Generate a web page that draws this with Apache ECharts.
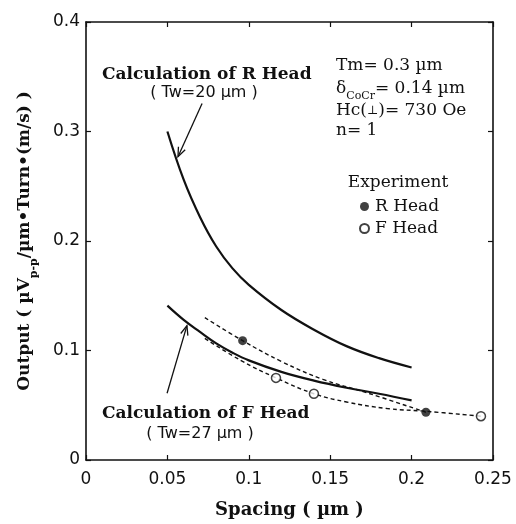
<!DOCTYPE html>
<html><head><meta charset="utf-8">
<script src="https://cdn.jsdelivr.net/npm/echarts@6/dist/echarts.min.js"></script>
<style>html,body{margin:0;padding:0;background:#fff}#c{width:516px;height:524px}</style>
</head><body><div id="c"></div>
<script>
// ---- Data ----
const calcRSpacing = [0.05, 0.06, 0.07, 0.08, 0.09, 0.10, 0.12, 0.14, 0.16, 0.18, 0.20];
const calcROutput  = [0.300, 0.256, 0.222, 0.195, 0.175, 0.160, 0.137, 0.119, 0.104, 0.093, 0.0845];
const calcFSpacing = [0.05, 0.06, 0.07, 0.08, 0.09, 0.10, 0.12, 0.14, 0.16, 0.18, 0.20];
const calcFOutput  = [0.141, 0.128, 0.117, 0.1065, 0.098, 0.091, 0.0805, 0.0725, 0.066, 0.0605, 0.0545];
const expRSpacing  = [0.0962, 0.2088];
const expROutput   = [0.109, 0.0436];
const expFSpacing  = [0.1167, 0.140, 0.2426];
const expFOutput   = [0.075, 0.0605, 0.040];
const fitRSpacing  = [0.073, 0.0962, 0.12, 0.1456, 0.1726, 0.2088];
const fitROutput   = [0.130, 0.109, 0.090, 0.0736, 0.0614, 0.0436];
const fitFSpacing  = [0.073, 0.095, 0.1167, 0.140, 0.16, 0.185, 0.2088, 0.2426];
const fitFOutput   = [0.111, 0.091, 0.075, 0.0605, 0.053, 0.047, 0.0445, 0.040];
const xTicks = [0, 0.05, 0.1, 0.15, 0.2, 0.25];
const yTicks = [0, 0.1, 0.2, 0.3, 0.4];

const pairs = (xs, ys) => xs.map((x, i) => [x, ys[i]]);
const INK = '#111';
const serif = 'DejaVu Serif';
const sans = 'DejaVu Sans';

const chart = echarts.init(document.getElementById('c'), null, {renderer: 'canvas'});

const axisCommon = {
  type: 'value',
  axisLine: {show: true, onZero: false, lineStyle: {color: INK, width: 1.6}},
  axisTick: {show: true, inside: true, length: 5, lineStyle: {color: INK, width: 1.2}},
  splitLine: {show: false}
};

const option = {
  animation: false,
  backgroundColor: '#fff',
  grid: {left: 86, right: 23, top: 22, bottom: 62, containLabel: false},
  xAxis: [
    Object.assign({}, axisCommon, {
      position: 'bottom', min: xTicks[0], max: xTicks[xTicks.length - 1], interval: 0.05,
      axisLabel: {color: INK, fontFamily: sans, fontSize: 17, margin: 11,
        formatter: v => { const t = xTicks.find(k => Math.abs(k - v) < 1e-9); return String(t); }},
      name: 'Spacing ( µm )', nameLocation: 'middle', nameGap: 41,
      nameTextStyle: {color: INK, fontFamily: serif, fontWeight: 'bold', fontSize: 18}
    }),
    Object.assign({}, axisCommon, {
      position: 'top', min: xTicks[0], max: xTicks[xTicks.length - 1], interval: 0.05,
      axisLabel: {show: false}
    })
  ],
  yAxis: [
    Object.assign({}, axisCommon, {
      position: 'left', min: yTicks[0], max: yTicks[yTicks.length - 1], interval: 0.1,
      axisLabel: {color: INK, fontFamily: sans, fontSize: 17, margin: 6,
        formatter: v => { const t = yTicks.find(k => Math.abs(k - v) < 1e-9); return t === 0 ? '0' : t.toFixed(1); }},
      name: '{b|Output ( µV}{s|p-p}{b|/µm•Turn•(m/s) )}',
      nameLocation: 'middle', nameRotate: 90, nameGap: 46,
      nameTextStyle: {
        rich: {
          b: {color: INK, fontFamily: serif, fontWeight: 'bold', fontSize: 17, lineHeight: 30},
          s: {color: INK, fontFamily: serif, fontWeight: 'bold', fontSize: 11, lineHeight: 30, verticalAlign: 'bottom'}
        }
      }
    }),
    Object.assign({}, axisCommon, {
      position: 'right', min: yTicks[0], max: yTicks[yTicks.length - 1], interval: 0.1,
      axisLabel: {show: false}
    })
  ],
  legend: {
    data: ['R Head', 'F Head'],
    orient: 'vertical', left: 359, top: 198, padding: 0,
    itemWidth: 9, itemHeight: 9, itemGap: 5,
    icon: 'circle',
    textStyle: {color: INK, fontFamily: serif, fontSize: 17, padding: [0, 0, 0, 1]}
  },
  series: [
    {name: 'Calc R', type: 'line', data: pairs(calcRSpacing, calcROutput), smooth: 0.4, symbol: 'none',
     lineStyle: {color: INK, width: 2.2}, z: 3},
    {name: 'Calc F', type: 'line', data: pairs(calcFSpacing, calcFOutput), smooth: 0.4, symbol: 'none',
     lineStyle: {color: INK, width: 2.2}, z: 3},
    {name: 'Fit R', type: 'line', data: pairs(fitRSpacing, fitROutput), smooth: 0.4, symbol: 'none',
     lineStyle: {color: INK, width: 1.4, type: [4, 3]}, z: 2},
    {name: 'Fit F', type: 'line', data: pairs(fitFSpacing, fitFOutput), smooth: 0.4, symbol: 'none',
     lineStyle: {color: INK, width: 1.4, type: [4, 3]}, z: 2},
    {name: 'R Head', type: 'scatter', data: pairs(expRSpacing, expROutput), symbol: 'circle', symbolSize: 9,
     itemStyle: {color: INK}, z: 5},
    {name: 'F Head', type: 'scatter', data: pairs(expFSpacing, expFOutput), symbol: 'circle', symbolSize: 9,
     itemStyle: {color: '#fff', borderColor: INK, borderWidth: 1.5}, z: 5}
  ]
};
chart.setOption(option);

// ---- Annotations ----
const arrowR = {tail: [0.0713, 0.3255], tip: [0.0565, 0.277]};
const arrowF = {tail: [0.0498, 0.061], tip: [0.062, 0.1227]};

function arrowGraphics(a) {
  const t = chart.convertToPixel({gridIndex: 0}, a.tail);
  const p = chart.convertToPixel({gridIndex: 0}, a.tip);
  const dx = p[0] - t[0], dy = p[1] - t[1];
  const L = Math.hypot(dx, dy), ux = dx / L, uy = dy / L;
  const hl = 10, ang = 0.38;
  const rot = (x, y, a2) => [x * Math.cos(a2) - y * Math.sin(a2), x * Math.sin(a2) + y * Math.cos(a2)];
  const b1 = rot(-ux, -uy, ang), b2 = rot(-ux, -uy, -ang);
  return [
    {type: 'line', shape: {x1: t[0], y1: t[1], x2: p[0], y2: p[1]}, style: {stroke: INK, lineWidth: 1.3}},
    {type: 'polyline', shape: {points: [[p[0] + b1[0] * hl, p[1] + b1[1] * hl], p, [p[0] + b2[0] * hl, p[1] + b2[1] * hl]]},
     style: {stroke: INK, fill: null, lineWidth: 1.3}}
  ];
}

function txt(x, y, text, extra) {
  return {
    type: 'text', x: x, y: y,
    style: Object.assign({text: text, fill: INK, align: 'left', verticalAlign: 'middle',
      textAlign: 'left', textVerticalAlign: 'middle', font: '17px "DejaVu Serif"'}, extra || {})
  };
}

const boldFont = 'bold 17px "DejaVu Serif"';
const richInfo = {
  m: {fontFamily: serif, fontSize: 17, color: INK, lineHeight: 26},
  s: {fontFamily: serif, fontSize: 11, color: INK, lineHeight: 26, verticalAlign: 'bottom'},
  p: {fontFamily: serif, fontSize: 12, color: INK, lineHeight: 26}
};

const graphics = [].concat(
  arrowGraphics(arrowR),
  arrowGraphics(arrowF),
  [
    txt(102, 75, 'Calculation of R Head', {font: boldFont}),
    txt(204, 93, '( Tw=20 µm )', {font: '16px "DejaVu Sans"', align: 'center', textAlign: 'center'}),
    txt(102, 414, 'Calculation of F Head', {font: boldFont}),
    txt(200, 434, '( Tw=27 µm )', {font: '16px "DejaVu Sans"', align: 'center', textAlign: 'center'}),
    txt(336, 66, 'Tm= 0.3 µm'),
    txt(336, 89, '{m|δ}{s|CoCr}{m|= 0.14 µm}', {rich: richInfo}),
    txt(336, 111, '{m|Hc(}{p|⊥}{m|)= 730 Oe}', {rich: richInfo}),
    txt(336, 131, 'n= 1'),
    txt(398, 183, 'Experiment', {align: 'center', textAlign: 'center'})
  ]
);
chart.setOption({graphic: {elements: graphics}});
</script>
</body></html>
